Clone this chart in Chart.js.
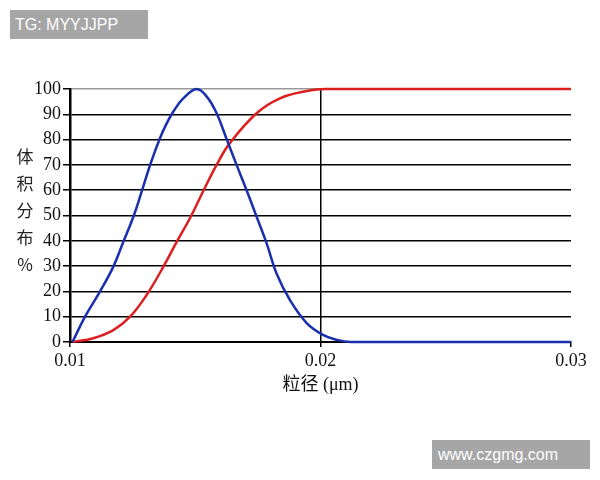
<!DOCTYPE html>
<html>
<head>
<meta charset="utf-8">
<script src="https://cdn.jsdelivr.net/npm/chart.js@4/dist/chart.umd.min.js"></script>
<style>
    body { margin: 0; background: #fff; }
    #wrap { position: relative; width: 600px; height: 480px; }
    .mark {
        position: absolute; background: #a6a6a6; color: #fff;
        font-family: "Liberation Sans", Arial, sans-serif; font-size: 16px;
        line-height: 29px; height: 29px; padding-left: 5px; box-sizing: border-box;
    }
</style>
</head>
<body>
<div id="wrap">
    <canvas id="sizeChart" width="600" height="480"></canvas>
    <div class="mark" style="left:10px; top:10px; width:138px;">TG: MYYJJPP</div>
    <div class="mark" style="left:432px; top:440px; width:158px; padding-left:6px;">www.czgmg.com</div>
</div>
<script>
// particle size (um) / volume distribution (%)
const blueX = [0.0101, 0.0106, 0.0112, 0.01173, 0.01213, 0.01253, 0.01286, 0.0132, 0.01359, 0.01386, 0.01412, 0.01452, 0.01506,
               0.01546, 0.01585, 0.01626, 0.01665, 0.01705, 0.01745, 0.01785, 0.01825, 0.01878, 0.01945, 0.0201, 0.0206, 0.0212, 0.03];
const blueY = [0, 10, 20, 29.8, 39.6, 49.5, 59.4, 70, 80.5, 86.4, 91, 96.3, 100,
               97, 90.5, 80, 70, 60, 49.5, 39, 27, 16.6, 7.5, 2.8, 1, 0, 0];

// cumulative curve
const redX = [0.0101, 0.01093, 0.01173, 0.0124, 0.01306, 0.01373, 0.01426, 0.01482, 0.01536, 0.01588, 0.01638,
              0.01745, 0.01838, 0.01945, 0.0202, 0.03];
const redY = [0, 1.5, 4.7, 10, 18.6, 29.8, 39.6, 49.5, 60.5, 70.5, 78.6, 90.4, 96.3, 99.2, 100, 100];

const xTicks = [0.01, 0.02, 0.03];
const yTitle = ['体', '积', '分', '布', '%'];
const xTitle = '粒径 (μm)';

function toPoints(xs, ys) {
    return xs.map((x, i) => ({ x: x, y: ys[i] }));
}

// draws the stacked vertical y title
const yTitlePlugin = {
    id: 'yTitle',
    afterDraw(chart) {
        const ctx = chart.ctx;
        ctx.save();
        ctx.fillStyle = '#222';
        ctx.font = '17px "Noto Sans CJK SC", "Liberation Serif", serif';
        ctx.textAlign = 'center';
        ctx.textBaseline = 'middle';
        yTitle.forEach((ch, i) => {
            ctx.fillText(ch, 25, 157 + i * 27);
        });
        ctx.restore();
    }
};

const ctx = document.getElementById('sizeChart').getContext('2d');
new Chart(ctx, {
    type: 'line',
    data: {
        datasets: [{
            data: toPoints(blueX, blueY),
            borderColor: '#1a2fae',
            borderWidth: 2.5,
            pointRadius: 0,
            tension: 0.4,
            clip: 4
        }, {
            data: toPoints(redX, redY),
            borderColor: '#dd1f1f',
            borderWidth: 2.5,
            pointRadius: 0,
            tension: 0.4,
            clip: 4
        }]
    },
    options: {
        responsive: false,
        animation: false,
        layout: { padding: { left: 0, right: 29, top: 89, bottom: 84 } },
        plugins: {
            legend: { display: false },
            tooltip: { enabled: false }
        },
        scales: {
            x: {
                type: 'linear',
                min: 0.01,
                max: 0.03,
                afterBuildTicks: scale => { scale.ticks = xTicks.map(v => ({ value: v })); },
                afterFit: scale => { scale.height = 54; },
                grid: {
                    color: c => (c.tick && Math.abs(c.tick.value - 0.02) < 1e-9) ? '#000' : 'rgba(0,0,0,0)',
                    tickColor: '#000',
                    lineWidth: 1.5,
                    tickLength: 5
                },
                border: { color: '#000', width: 2 },
                ticks: {
                    color: '#111',
                    font: { family: '"Liberation Serif", serif', size: 18 },
                    padding: 3,
                    maxRotation: 0,
                    callback: v => v.toFixed(2)
                },
                title: {
                    display: true,
                    text: xTitle,
                    color: '#111',
                    font: { family: '"Liberation Serif", "Noto Sans CJK SC", serif', size: 18 },
                    padding: { top: 2, bottom: 0 }
                }
            },
            y: {
                min: 0,
                max: 100,
                ticks: {
                    stepSize: 10,
                    color: '#111',
                    font: { family: '"Liberation Serif", serif', size: 18 },
                    padding: 2
                },
                afterFit: scale => { scale.width = 70; },
                grid: {
                    color: c => (c.tick && c.tick.value === 100) ? '#999' : '#000',
                    tickColor: '#000',
                    lineWidth: 1.5,
                    tickLength: 7
                },
                border: { color: '#000', width: 2.5 }
            }
        }
    },
    plugins: [yTitlePlugin]
});
</script>
</body>
</html>
